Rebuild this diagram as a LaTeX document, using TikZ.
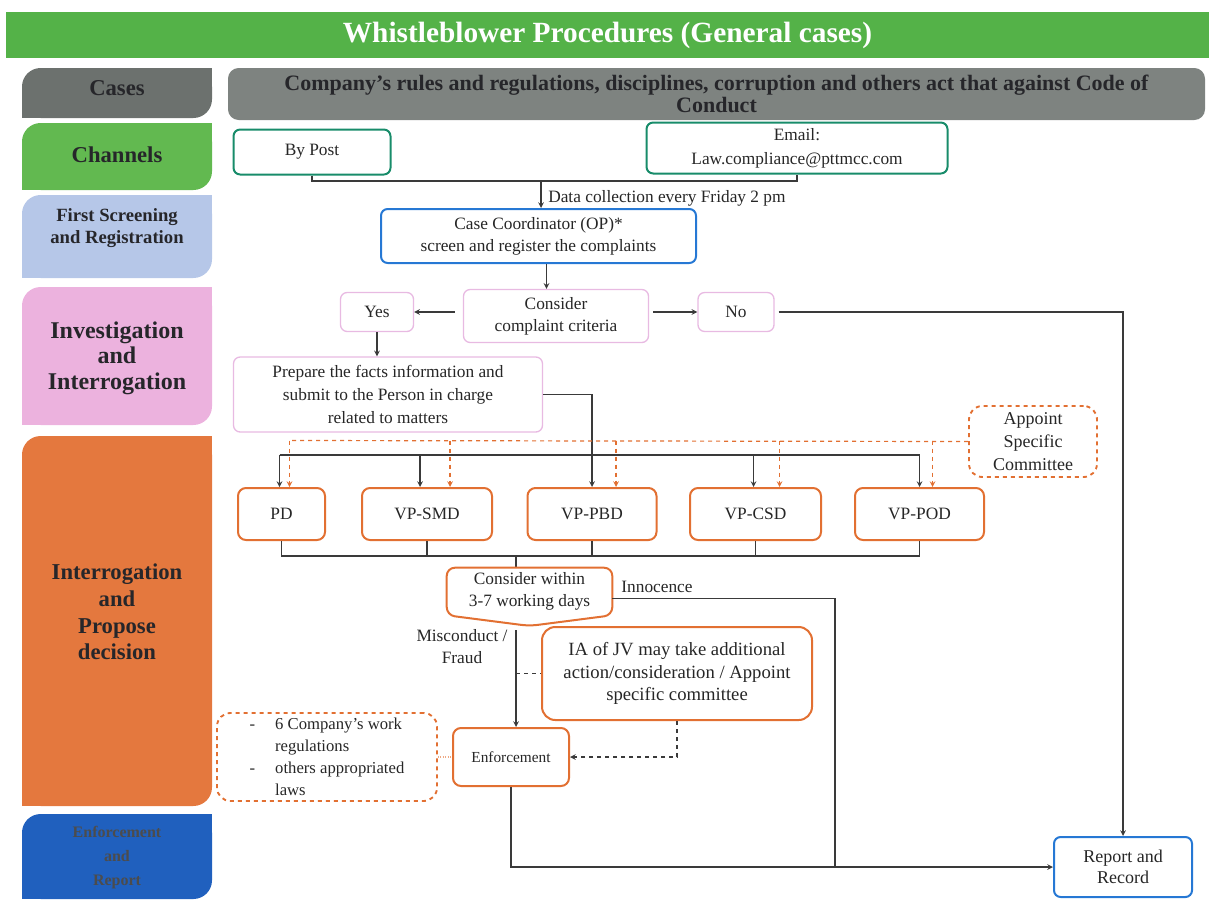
\documentclass[tikz,border=0pt]{standalone}
\usepackage{fontspec}
\setmainfont{Liberation Serif}
\usetikzlibrary{arrows, calc}

\definecolor{titlegreen}{RGB}{84,178,72}
\definecolor{lanegray}{RGB}{108,113,110}
\definecolor{bargray}{RGB}{126,131,128}
\definecolor{lanegreen}{RGB}{98,185,80}
\definecolor{laneblue}{RGB}{182,199,232}
\definecolor{lanepink}{RGB}{236,178,222}
\definecolor{laneorange}{RGB}{228,120,62}
\definecolor{lanenavy}{RGB}{32,96,190}
\definecolor{lanetext}{RGB}{38,38,42}
\definecolor{boxteal}{RGB}{24,140,106}
\definecolor{boxblue}{RGB}{38,120,212}
\definecolor{boxpink}{RGB}{232,186,226}
\definecolor{boxorange}{RGB}{226,112,50}
\definecolor{linegray}{RGB}{58,58,58}

\begin{document}
\begin{tikzpicture}[
    x=0.75pt, y=-0.75pt,
    every node/.style={font=\fontsize{13}{16.5}\selectfont, text=black!85, align=center, inner sep=0pt},
    >=stealth,
    arrow/.style={->, line width=0.9pt, draw=linegray},
    link/.style={line width=0.9pt, draw=linegray},
    dasharrow/.style={->, line width=0.9pt, draw=linegray, dashed},
    orangearrow/.style={->, line width=0.9pt, draw=boxorange, dashed},
    lanelabel/.style={font=\fontsize{17}{20}\selectfont\bfseries, text=lanetext},
    channel/.style={rectangle, rounded corners=5pt, draw=boxteal, line width=1.5pt},
    bluebox/.style={rectangle, rounded corners=5pt, draw=boxblue, line width=1.5pt},
    pinkbox/.style={rectangle, rounded corners=5pt, draw=boxpink, line width=1pt},
    process/.style={rectangle, rounded corners=6pt, draw=boxorange, line width=1.5pt},
    dashbox/.style={rectangle, rounded corners=10pt, draw=boxorange, line width=1.4pt, dashed}
]
\useasboundingbox (0,0) rectangle (1209,900);

% Lanes (round top-left and bottom-right corners only)
\foreach \c/\ya/\yb in {lanegray/68/118, lanegreen/123/190, laneblue/195/278, lanepink/287/425, laneorange/436/806, lanenavy/814/899} {
    \fill[\c, rounded corners=14pt] (22,\ya) rectangle (212,\yb);
    \fill[\c] (194,\ya) rectangle (212,\ya+18);
    \fill[\c] (22,\yb-18) rectangle (40,\yb);
}

% Nodes
\node (title) [fill=titlegreen, minimum width=902pt, minimum height=35pt, text=white, font=\fontsize{22}{26}\selectfont\bfseries] at (607.5,35) {Whistleblower Procedures (General cases)};

\node (casesLabel) [lanelabel] at (117,88) {Cases};
\node (channelsLabel) [lanelabel] at (117,155) {Channels};
\node (screeningLabel) [lanelabel, font=\fontsize{14}{17}\selectfont\bfseries] at (117,228) {First Screening\\and Registration};
\node (investigationLabel) [lanelabel, font=\fontsize{18}{19}\selectfont\bfseries] at (117,358) {Investigation\\and\\Interrogation};
\node (interrogationLabel) [lanelabel] at (117,612) {Interrogation\\and\\Propose\\decision};
\node (enforcementLabel) [lanelabel, font=\fontsize{12}{18}\selectfont\bfseries, text=black!70] at (117,858) {Enforcement\\and\\Report};

\node (casesBar) [fill=bargray, rounded corners=8pt, minimum width=732.75pt, minimum height=39pt, font=\fontsize{16.5}{16.5}\selectfont\bfseries, text=lanetext] at (716.5,94) {Company's rules and regulations, disciplines, corruption and others act that against Code of\\Conduct};

\node (byPost) [channel, minimum width=117.75pt, minimum height=33.75pt] at (312,152) {By Post};
\node (emailBox) [channel, minimum width=225.75pt, minimum height=38.25pt, font=\fontsize{13}{18}\selectfont] at (797,148) {Email:\\Law.compliance@pttmcc.com};
\coordinate (collect) at (541,181);
\node (dataLabel) [anchor=west, font=\fontsize{13}{15}\selectfont] at (548,198) {Data collection every Friday 2 pm};
\node (caseCoord) [bluebox, minimum width=236.25pt, minimum height=40.5pt] at (538.5,236) {Case Coordinator (OP)*\\screen and register the complaints};

\node (considerCriteria) [pinkbox, minimum width=138.75pt, minimum height=39.75pt] at (556,316) {Consider\\complaint criteria};
\node (yesBox) [pinkbox, minimum width=54.75pt, minimum height=29.25pt] at (377,312) {Yes};
\node (noBox) [pinkbox, minimum width=57pt, minimum height=29.25pt] at (736,312) {No};
\node (prepareFacts) [pinkbox, minimum width=231.75pt, minimum height=56.25pt, font=\fontsize{13}{17}\selectfont] at (388,394.5) {Prepare the facts information and\\submit to the Person in charge\\related to matters};

\node (appointCommittee) [dashbox, minimum width=96pt, minimum height=53.25pt, font=\fontsize{13.5}{17.5}\selectfont] at (1033,441.5) {Appoint\\Specific\\Committee};

\node (pd) [process, minimum width=65.25pt, minimum height=39pt] at (281.5,514) {PD};
\node (vpSmd) [process, minimum width=97.5pt, minimum height=39pt] at (427,514) {VP-SMD};
\node (vpPbd) [process, minimum width=96.75pt, minimum height=39pt] at (592,514) {VP-PBD};
\node (vpCsd) [process, minimum width=98.25pt, minimum height=39pt] at (755.5,514) {VP-CSD};
\node (vpPod) [process, minimum width=96.75pt, minimum height=39pt] at (919.5,514) {VP-POD};
\coordinate (merge) at (516,556);

\node (considerWithin) [minimum width=123.75pt, minimum height=35.25pt] at (529.5,591.5) {Consider within\\3-7 working days};
\node (innocence) at (657,587) {Innocence};
\coordinate (innocenceDown) at (835,868);
\node (misconduct) at (462,647) {Misconduct /\\Fraud};
\coordinate (misStart) at (516,630);

\node (iaJv) [process, rounded corners=10pt, minimum width=202.5pt, minimum height=69.75pt, font=\fontsize{14}{17}\selectfont] at (677,673.5) {IA of JV may take additional\\action/consideration / Appoint\\specific committee};
\node (enforcement) [process, minimum width=87pt, minimum height=43.5pt, font=\fontsize{11.5}{14}\selectfont] at (511,757) {Enforcement};
\node (lawsBox) [dashbox, minimum width=165pt, minimum height=66pt, align=left, font=\fontsize{12.5}{16.5}\selectfont] at (327,757) {-\hspace*{1.2em}6 Company's work\\\hspace*{1.53em}regulations\\-\hspace*{1.2em}others appropriated\\\hspace*{1.53em}laws};

\node (reportRecord) [bluebox, minimum width=103.5pt, minimum height=45pt, font=\fontsize{13.5}{15.5}\selectfont] at (1123,867) {Report and\\Record};

% Arrows
\draw [link] (byPost.south) |- (collect) -| (emailBox.south);
\draw [arrow] (collect) -- (collect |- caseCoord.north);
\draw [arrow] ([xshift=6pt]caseCoord.south) -- ([xshift=6pt]caseCoord.south |- considerCriteria.north);
\draw [arrow, shorten <=6pt] (considerCriteria.west |- yesBox.east) -- (yesBox.east);
\draw [arrow, shorten <=3pt] (considerCriteria.east |- noBox.west) -- (noBox.west);
% "No" goes straight to Report and Record
\draw [arrow, shorten <=3pt] (noBox.east) -| (reportRecord.north);
\draw [arrow] (yesBox.south) -- (yesBox.south |- prepareFacts.north);
\draw [arrow] (prepareFacts.east) -| (vpPbd.north);

% black bus to the persons in charge
\draw [link] ($(pd.north)+(-2,-32)$) -- ($(vpPod.north)+(0,-32)$);
\foreach \n/\d in {pd/-2, vpSmd/-7, vpCsd/-2, vpPod/0}
    \draw [arrow] ($(\n.north)+(\d,-32)$) -- ++(0,32);

% dashed bus from Appoint Specific Committee
\draw [orangearrow, -] (appointCommittee.west) -- ($(pd.north)+(8,-46.5)$);
\foreach \n/\d in {pd/8, vpSmd/23, vpPbd/24, vpCsd/24, vpPod/13}
    \draw [orangearrow] ($(\n.north)+(\d,-46.5)$) -- ++(0,46.5);

% collect the decisions
\draw [link] (pd.south) |- (merge) -| (vpPod.south);
\foreach \n in {vpSmd, vpPbd, vpCsd}
    \draw [link] (\n.south) -- (\n.south |- merge);
\draw [link] (merge) -- (merge |- considerWithin.north);
\draw [process, line join=round] (considerWithin.north west) -- (considerWithin.north east) -- (considerWithin.south east) -- ([yshift=-8pt]considerWithin.south) -- (considerWithin.south west) -- cycle;

\draw [link] ([yshift=-5pt]considerWithin.east) -| (innocenceDown);
\draw [arrow] (misStart) -- (misStart |- enforcement.north);
\draw [link, dashed] (misStart |- iaJv.west) -- (iaJv.west);
\draw [dasharrow] (iaJv.south) |- (enforcement.east);
\draw [line width=0.8pt, draw=boxorange!60, densely dotted] (lawsBox.east) -- (enforcement.west);
\draw [arrow] (enforcement.south) |- (reportRecord.west);
\end{tikzpicture}
\end{document}
